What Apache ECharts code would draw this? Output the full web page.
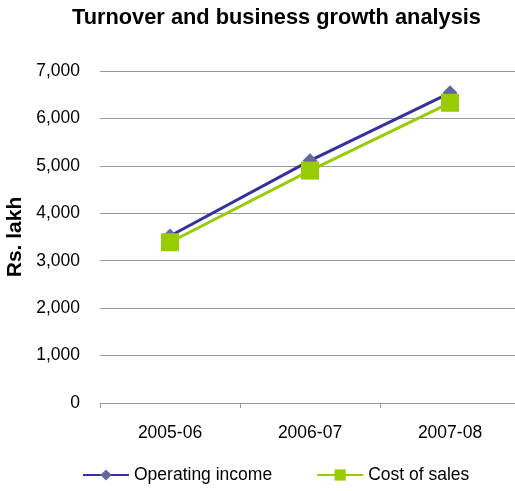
<!DOCTYPE html>
<html>
<head>
<meta charset="utf-8">
<script src="https://cdn.jsdelivr.net/npm/echarts@6/dist/echarts.min.js"></script>
<style>
  html, body { margin: 0; padding: 0; background: #fff; }
  #chart { width: 515px; height: 491px; }
</style>
</head>
<body>
<div id="chart"></div>
<script>
const years = ['2005-06', '2006-07', '2007-08']
const operatingIncome = [3520, 5110, 6540]
const costOfSales = [3390, 4900, 6330]
const yTicks = [0, 1000, 2000, 3000, 4000, 5000, 6000, 7000]

const font = 'Liberation Sans, Arial, sans-serif'
const chart = echarts.init(document.getElementById('chart'))

chart.setOption({
  animation: false,
  title: {
    text: 'Turnover and business growth analysis',
    left: 67,
    top: 2,
    textStyle: { fontFamily: font, fontSize: 21.8, fontWeight: 'bold', color: '#000' }
  },
  grid: { left: 100, top: 71, width: 420, height: 332, outerBoundsMode: 'none' },
  legend: {
    bottom: 2,
    left: 77,
    itemGap: 44,
    itemWidth: 46,
    itemHeight: 14,
    textStyle: { fontFamily: font, fontSize: 17.5, color: '#000' },
    data: ['Operating income', 'Cost of sales']
  },
  xAxis: {
    type: 'category',
    data: years,
    boundaryGap: true,
    axisLine: { lineStyle: { color: '#999', width: 1 } },
    axisTick: { show: true, length: 5, lineStyle: { color: '#999' } },
    axisLabel: { fontFamily: font, fontSize: 17.5, color: '#000', margin: 21 }
  },
  yAxis: {
    type: 'value',
    min: yTicks[0],
    max: yTicks[yTicks.length - 1],
    interval: 1000,
    name: 'Rs. lakh',
    nameLocation: 'middle',
    nameRotate: 90,
    nameGap: 68,
    nameTextStyle: { fontFamily: font, fontSize: 21, fontWeight: 'bold', color: '#000' },
    axisLine: { show: false },
    axisTick: { show: false },
    splitLine: { lineStyle: { color: '#999', width: 1 } },
    axisLabel: {
      fontFamily: font,
      fontSize: 17.5,
      color: '#000',
      margin: 20,
      formatter: v => v.toLocaleString('en-US')
    }
  },
  series: [
    {
      name: 'Operating income',
      type: 'line',
      data: operatingIncome,
      symbol: 'diamond',
      symbolSize: 15,
      lineStyle: { color: '#333399', width: 3 },
      itemStyle: { color: '#666699', borderWidth: 0 }
    },
    {
      name: 'Cost of sales',
      type: 'line',
      data: costOfSales,
      symbol: 'rect',
      symbolSize: 18,
      lineStyle: { color: '#99cc00', width: 3 },
      itemStyle: { color: '#99cc00', borderWidth: 0 }
    }
  ]
})
</script>
</body>
</html>
